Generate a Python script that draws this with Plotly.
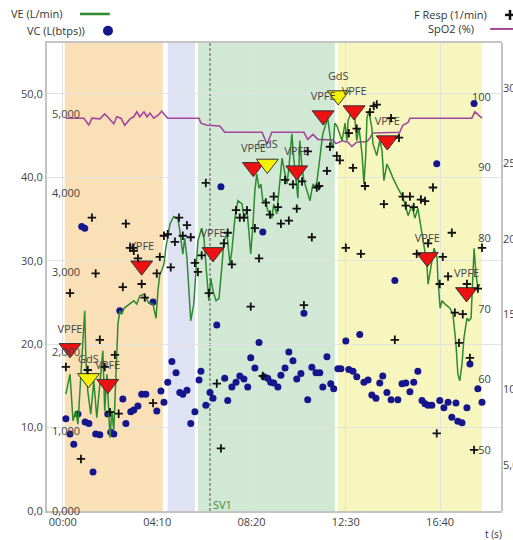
import plotly.graph_objects as go

# ---------------- data (time in seconds) ----------------
ve_t = [8, 19, 27, 34, 40, 45, 53, 58, 61, 66, 74, 82, 90, 98, 106, 111, 117, 125, 130, 135,
        141, 146, 151, 156, 162, 175, 188, 196, 204, 215, 228, 239, 247, 252, 257, 262, 268, 273, 284, 294,
        305, 310, 318, 323, 329, 337, 339, 347, 355, 358, 368, 374, 382, 387, 392, 398, 406, 414, 422, 427,
        435, 443, 448, 456, 464, 475, 480, 488, 493, 498, 504, 509, 514, 520, 525, 530, 538, 543, 554, 559,
        567, 575, 581, 586, 594, 599, 607, 612, 618, 623, 628, 634, 639, 647, 655, 663, 671, 676, 684, 689,
        697, 702, 710, 716, 721, 726, 740, 748, 753, 756, 766, 774, 779, 785, 793, 798, 803, 806, 811, 819,
        822, 832, 840, 846, 851, 859, 867, 875, 888, 899, 907, 915, 925, 933, 941, 952, 960, 965, 968, 978,
        984, 992, 994, 1000, 1005, 1013, 1026, 1034, 1042, 1047, 1052, 1058, 1063, 1071, 1076, 1082, 1087, 1090, 1095, 1100,
        1105]
ve_val = [14.0, 16.4, 10.8, 12.0, 10.4, 14.4, 20.7, 24.0, 18.3, 14.4, 11.6, 15.6, 11.2, 15.2, 19.2, 12.0, 16.4, 8.8, 12.0, 9.6,
          15.6, 22.4, 24.0, 23.6, 24.3, 24.8, 25.2, 24.8, 25.8, 26.0, 24.9, 24.8, 23.1, 26.4, 28.4, 28.8, 29.6, 31.5, 34.4, 35.3,
          35.0, 33.6, 30.8, 32.7, 30.3, 24.3, 22.8, 24.8, 29.6, 32.4, 33.9, 32.7, 27.9, 25.2, 27.9, 26.4, 25.2, 25.5, 29.6, 32.4,
          33.2, 29.6, 31.2, 35.1, 37.2, 36.8, 35.1, 36.0, 33.6, 30.8, 34.4, 38.4, 40.4, 38.7, 39.2, 37.2, 37.2, 36.0, 35.1, 36.8,
          35.6, 39.2, 42.3, 41.1, 39.2, 41.1, 45.2, 42.3, 39.9, 37.5, 44.4, 41.1, 39.6, 38.4, 37.2, 39.2, 38.7, 40.4, 43.2, 45.2,
          46.4, 47.1, 44.4, 43.5, 46.5, 46.2, 44.4, 46.5, 44.4, 46.8, 48.0, 47.1, 44.4, 45.9, 42.8, 39.2, 42.8, 47.1, 48.0, 45.9,
          44.0, 42.6, 44.4, 43.2, 39.6, 41.6, 40.8, 39.9, 38.7, 37.8, 36.8, 35.4, 36.6, 35.1, 36.3, 33.2, 31.5, 29.6, 27.2, 29.6,
          31.5, 30.3, 27.9, 24.3, 25.2, 24.8, 24.3, 23.6, 20.0, 16.4, 15.6, 17.6, 20.7, 23.1, 22.8, 23.1, 27.9, 31.5, 28.4, 26.7,
          27.2]

vc_t = [8, 19, 29, 40, 50, 58, 59, 69, 80, 87, 98, 119, 127, 135, 151, 159, 167, 180, 188, 199,
        209, 220, 239, 249, 260, 268, 278, 289, 300, 310, 318, 329, 339, 350, 361, 366, 379, 390, 398, 408,
        419, 429, 437, 448, 459, 469, 480, 490, 498, 509, 520, 530, 533, 543, 551, 559, 570, 578, 589, 599,
        610, 620, 631, 639, 649, 660, 671, 681, 689, 700, 710, 718, 729, 737, 750, 758, 769, 779, 787, 798,
        809, 819, 830, 840, 848, 859, 870, 880, 888, 899, 909, 920, 930, 941, 952, 960, 968, 978, 991, 999,
        1010, 1021, 1031, 1042, 1047, 1058, 1071, 1079, 1090, 1100, 1111]
vc_val = [1.16, 0.97, 0.84, 1.22, 3.58, 3.56, 1.12, 1.10, 0.49, 0.97, 0.96, 1.22, 0.99, 0.97, 2.52, 1.41, 1.10, 1.25, 1.27, 1.32,
          1.47, 1.47, 2.63, 1.26, 1.51, 1.37, 1.62, 1.88, 1.74, 1.49, 1.47, 1.52, 1.10, 1.25, 1.65, 1.76, 1.33, 1.49, 1.42, 2.34,
          4.08, 1.67, 1.39, 1.56, 1.62, 1.70, 1.66, 1.56, 1.93, 1.80, 2.12, 3.51, 1.69, 1.67, 1.62, 1.61, 1.56, 1.71, 1.80, 2.00,
          1.89, 1.66, 1.73, 2.49, 1.40, 1.81, 1.74, 1.74, 1.56, 1.94, 1.60, 1.54, 1.79, 1.79, 2.14, 1.78, 1.76, 1.69, 2.22, 1.62,
          1.65, 1.46, 1.42, 1.61, 1.70, 1.49, 1.40, 2.90, 1.40, 1.60, 1.61, 1.50, 1.62, 1.76, 1.39, 1.35, 1.33, 1.33, 4.37, 1.39,
          1.30, 1.37, 1.18, 1.36, 1.13, 1.11, 1.30, 1.85, 5.13, 1.54, 1.37]

fr_t = [8, 19, 48, 66, 77, 87, 98, 111, 125, 138, 148, 159, 167, 178, 186, 188, 199, 209, 217, 239,
        249, 257, 268, 278, 286, 297, 308, 318, 329, 339, 350, 358, 368, 379, 387, 408, 419, 427, 437, 448,
        459, 469, 480, 488, 498, 509, 520, 530, 538, 549, 559, 570, 578, 589, 599, 610, 620, 634, 639, 649,
        660, 673, 679, 700, 708, 726, 734, 750, 758, 769, 779, 790, 801, 814, 824, 832, 851, 870, 880, 891,
        901, 909, 920, 930, 938, 949, 960, 968, 981, 991, 999, 1007, 1021, 1031, 1039, 1050, 1060, 1071, 1079, 1090,
        1100, 1111]
fr_val = [11.5, 16.4, 5.4, 11.3, 21.4, 17.7, 13.3, 11.5, 8.5, 12.3, 8.4, 16.8, 21.0, 19.4, 19.4, 19.2, 18.7, 17.0, 16.1, 9.1,
          17.7, 18.8, 20.2, 20.3, 18.1, 19.8, 21.4, 20.2, 20.9, 20.1, 18.4, 17.8, 18.9, 23.7, 16.4, 10.4, 6.1, 19.7, 20.4, 18.3,
          21.9, 21.4, 21.4, 21.9, 15.5, 20.7, 18.7, 10.9, 22.4, 21.6, 22.8, 22.1, 21.0, 23.9, 21.2, 23.6, 22.0, 23.8, 15.6, 25.8,
          20.1, 23.4, 23.5, 24.5, 26.1, 25.5, 25.2, 19.4, 27.0, 24.7, 27.3, 19.0, 23.5, 28.4, 28.8, 28.9, 22.3, 28.0, 13.3, 26.7,
          22.8, 22.2, 22.8, 22.1, 19.0, 22.6, 22.5, 19.7, 23.4, 7.1, 17.0, 18.8, 17.5, 20.4, 15.1, 13.1, 15.0, 17.0, 12.1, 6.0,
          16.7, 19.4]

spo2_t = [8, 56, 69, 77, 98, 111, 122, 135, 143, 154, 164, 178, 188, 196, 204, 215, 223, 231, 241, 254,
          262, 270, 278, 361, 366, 382, 416, 429, 528, 541, 554, 639, 649, 663, 676, 716, 724, 740, 756, 766,
          779, 806, 814, 822, 893, 901, 915, 920, 1084, 1092, 1111]
spo2_val = [97.0, 97.0, 96.0, 97.0, 96.9, 97.6, 97.0, 96.2, 97.2, 97.0, 96.0, 96.9, 97.2, 97.9, 97.2, 97.9, 97.2, 97.7, 97.0, 97.5,
            98.0, 97.5, 97.0, 97.0, 96.3, 96.0, 95.9, 95.0, 95.0, 93.3, 95.0, 95.0, 94.0, 94.7, 94.0, 93.9, 93.4, 93.8, 93.6, 93.0,
            93.6, 93.7, 94.2, 94.9, 95.0, 96.0, 96.4, 97.0, 97.0, 97.9, 97.0]

ev_t = [19, 68, 119, 209, 398, 505, 542, 620, 690, 730, 772, 860, 966, 1070]
ev_ve = [19.5, 15.9, 15.2, 29.4, 31.0, 41.2, 41.6, 40.8, 47.4, 49.8, 48.0, 44.4, 30.4, 26.2]
ev_label = ["VPFE", "GdS", "VPFE", "VPFE", "VPFE", "VPFE", "GdS", "VPFE", "VPFE", "GdS", "VPFE", "VPFE", "VPFE", "VPFE"]

phase_start = [5, 278, 358, 729]
phase_end = [265, 350, 721, 1111]
phase_color = ["#f9e0b7", "#dfe2f2", "#d0e8d4", "#f8f6bf"]
sv1_t = 390

time_ticks = [0, 250, 500, 750, 1000]
time_labels = ["00:00", "04:10", "08:20", "12:30", "16:40"]
ve_ticks = [0, 10, 20, 30, 40, 50]
vc_ticks = [0, 1, 2, 3, 4, 5]
spo2_ticks = [50, 60, 70, 80, 90, 100]
fr_ticks = [5, 10, 15, 20, 25, 30]

# ---------------- figure ----------------
FONT = "Open Sans"
TXT = "#444444"
GRID = "#e2e2e2"
LINE = "#c4c4c4"
ev_colors = ["#f5f200" if s == "GdS" else "#ee1111" for s in ev_label]

fig = go.Figure()
fig.add_trace(go.Scatter(x=vc_t, y=vc_val, mode="markers", yaxis="y",
                         marker=dict(color="#15158e", size=7), hoverinfo="skip"))
fig.add_trace(go.Scatter(x=spo2_t, y=spo2_val, mode="lines", yaxis="y2",
                         line=dict(color="#a3469e", width=1.6), hoverinfo="skip"))
fig.add_trace(go.Scatter(x=ve_t, y=ve_val, mode="lines", yaxis="y3",
                         line=dict(color="#2e8b2e", width=1.5), hoverinfo="skip"))
fig.add_trace(go.Scatter(x=ev_t, y=ev_ve, mode="markers+text", yaxis="y3",
                         text=ev_label, textposition="top center",
                         textfont=dict(family=FONT, size=11, color=TXT),
                         marker=dict(symbol="triangle-down", size=19, color=ev_colors,
                                     line=dict(color="#333333", width=1)),
                         hoverinfo="skip"))
fig.add_trace(go.Scatter(x=fr_t, y=fr_val, mode="markers", yaxis="y4",
                         marker=dict(symbol="cross-thin", size=6,
                                     line=dict(color="#111111", width=1.8)),
                         hoverinfo="skip"))

shapes = []
for s, e, c in zip(phase_start, phase_end, phase_color):
    shapes.append(dict(type="rect", xref="x", yref="paper", x0=s, x1=e, y0=0, y1=1,
                       fillcolor=c, line=dict(width=0), layer="below"))
shapes.append(dict(type="line", xref="x", yref="paper", x0=sv1_t, x1=sv1_t, y0=0, y1=1,
                   line=dict(color="#555555", width=1, dash="3px,2px"), layer="below"))
# legend symbols
shapes.append(dict(type="line", xref="paper", yref="paper", x0=0.0725, x1=0.138, y0=1.062, y1=1.062,
                   line=dict(color="#2e8b2e", width=2.5)))
shapes.append(dict(type="circle", xref="paper", yref="paper", xsizemode="pixel", ysizemode="pixel",
                   xanchor=0.134, yanchor=1.026, x0=-5, x1=5, y0=-5, y1=5,
                   fillcolor="#15158e", line=dict(width=0)))
shapes.append(dict(type="line", xref="paper", yref="paper", x0=0.974, x1=1.04, y0=1.030, y1=1.030,
                   line=dict(color="#a3469e", width=2)))
shapes.append(dict(type="line", xref="paper", yref="paper", xsizemode="pixel", ysizemode="pixel",
                   xanchor=1.0176, yanchor=1.060, x0=-5, x1=5, y0=0, y1=0,
                   line=dict(color="#111111", width=2.5)))
shapes.append(dict(type="line", xref="paper", yref="paper", xsizemode="pixel", ysizemode="pixel",
                   xanchor=1.0176, yanchor=1.060, x0=0, x1=0, y0=-5, y1=5,
                   line=dict(color="#111111", width=2.5)))

annotations = [
    dict(text="VE (L/min)", xref="paper", yref="paper", x=0.04, y=1.062, xanchor="right", yanchor="middle",
         showarrow=False, font=dict(family=FONT, size=11, color="#333333")),
    dict(text="VC (L(btps))", xref="paper", yref="paper", x=0.088, y=1.026, xanchor="right", yanchor="middle",
         showarrow=False, font=dict(family=FONT, size=11, color="#333333")),
    dict(text="F Resp (1/min)", xref="paper", yref="paper", x=0.971, y=1.060, xanchor="right", yanchor="middle",
         showarrow=False, font=dict(family=FONT, size=11, color="#333333")),
    dict(text="SpO2 (%)", xref="paper", yref="paper", x=0.943, y=1.030, xanchor="right", yanchor="middle",
         showarrow=False, font=dict(family=FONT, size=11, color="#333333")),
    dict(text="SV1", xref="x", yref="paper", x=sv1_t + 4, y=0.014, xanchor="left", yanchor="middle",
         showarrow=False, font=dict(family=FONT, size=11, color="#3d8b3d")),
    dict(text="t (s)", xref="paper", yref="paper", x=0.982, y=-0.049, xanchor="center", yanchor="middle",
         showarrow=False, font=dict(family=FONT, size=10, color="#333333")),
]

tickfont = dict(family=FONT, size=11, color=TXT)
fig.update_layout(
    width=513, height=540,
    margin=dict(l=47, r=11, t=43, b=29, autoexpand=False),
    paper_bgcolor="white", plot_bgcolor="white",
    showlegend=False, separators=",.",
    font=dict(family=FONT, size=11, color=TXT),
    shapes=shapes, annotations=annotations,
    xaxis=dict(range=[-42, 1164], tickvals=time_ticks, ticktext=time_labels, automargin=False,
               showgrid=True, gridcolor=GRID, gridwidth=1, zeroline=False,
               showline=True, linecolor=LINE, linewidth=2, mirror=True, ticks="",
               tickfont=tickfont),
    # VC axis: labels drawn just inside the left border
    yaxis=dict(range=[0, 5.89], tickvals=vc_ticks, tickformat=".3f", anchor="free", position=0,
               side="right", automargin=False, ticklabelstandoff=4, showgrid=False, zeroline=False,
               showline=False, ticks="", tickfont=tickfont),
    # SpO2 axis: labels drawn just inside the right border (also draws the right border)
    yaxis2=dict(range=[41.36, 107.65], tickvals=spo2_ticks, overlaying="y", anchor="free", position=1,
                side="left", automargin=False, ticklabelstandoff=8, showgrid=False, zeroline=False,
                showline=True, linecolor=LINE, linewidth=2, ticks="", tickfont=tickfont),
    yaxis3=dict(range=[0, 56.1], tickvals=ve_ticks, tickformat=".1f", overlaying="y", side="left",
                anchor="x", automargin=False, showgrid=True, gridcolor=GRID, gridwidth=1, zeroline=False,
                showline=True, linecolor=LINE, linewidth=2, ticks="", tickfont=tickfont),
    yaxis4=dict(range=[1.95, 32.98], tickvals=fr_ticks, tickformat=".1f", overlaying="y", side="right",
                anchor="x", automargin=False, showgrid=False, zeroline=False,
                showline=False, ticks="", tickfont=tickfont),
)

fig.write_html("out.html")
